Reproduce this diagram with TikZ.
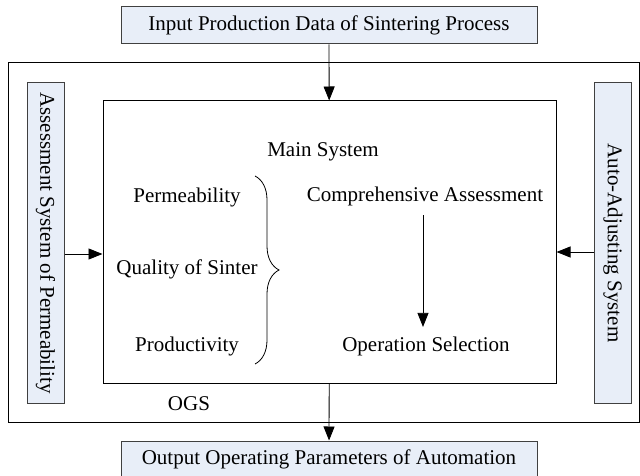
\documentclass[tikz,border=0pt]{standalone}
\usepackage{fontspec}
\setmainfont{Liberation Serif}
\usetikzlibrary{arrows.meta,decorations.pathreplacing}
\definecolor{boxblue}{RGB}{232,238,248}

\begin{document}
\begin{tikzpicture}
 [x=1pt,y=1pt,every node/.style={font=\fontsize{21}{25}\selectfont},
  iobox/.style={draw=black!75,fill=boxblue,line width=1pt,minimum width=416pt,minimum height=37pt,inner sep=0pt},
  sidebox/.style={draw=black!75,fill=boxblue,line width=1pt,rotate=-90,minimum width=320pt,minimum height=37pt,inner sep=0pt},
  flow/.style={-{Triangle[length=14pt,width=11pt]},line width=0.8pt}]
 \useasboundingbox (0,0) rectangle (640,-476);
 \draw[line width=1pt] (8,-63) rectangle (639,-422);
 \node at (189,-404) {OGS};
 \node[iobox] (input) at (329,-25.5) {Input Production Data of Sintering Process};
 \node[iobox] (output) at (329,-459.5) {Output Operating Parameters of Automation};
 \node[draw,line width=1pt,minimum width=453pt,minimum height=282pt] (main) at (329.5,-242) {};
 \node[sidebox] (assess) at (45.5,-243) {Assessment System of Permeability};
 \node[sidebox] (adjust) at (613,-243) {Auto-Adjusting System};
 \node (title) at (323,-152) {Main System};
 \foreach \name/\y/\txt in {perm/197/Permeability,qual/269/Quality of Sinter,prod/346/Productivity}
  \node (\name) at (187,-\y) {\txt};
 \node (comp) at (425,-196) {Comprehensive Assessment};
 \node (oper) at (426,-346) {Operation Selection};
 \draw[decorate,decoration={brace,amplitude=24pt},line width=0.8pt] (255,-176) -- (255,-364);
 \draw[flow] (input) -- (main);
 \draw[flow] (main) -- (output);
 \draw[flow] ([yshift=-11pt]assess.north) -- ([yshift=-11pt]assess.north -| main.west);
 \draw[flow] ([yshift=-9pt]adjust.south) -- ([yshift=-9pt]adjust.south -| main.east);
 \draw[flow,shorten <=6pt,shorten >=6pt] (comp.south -| 423,0) -- (oper.north -| 423,0);
\end{tikzpicture}
\end{document}
